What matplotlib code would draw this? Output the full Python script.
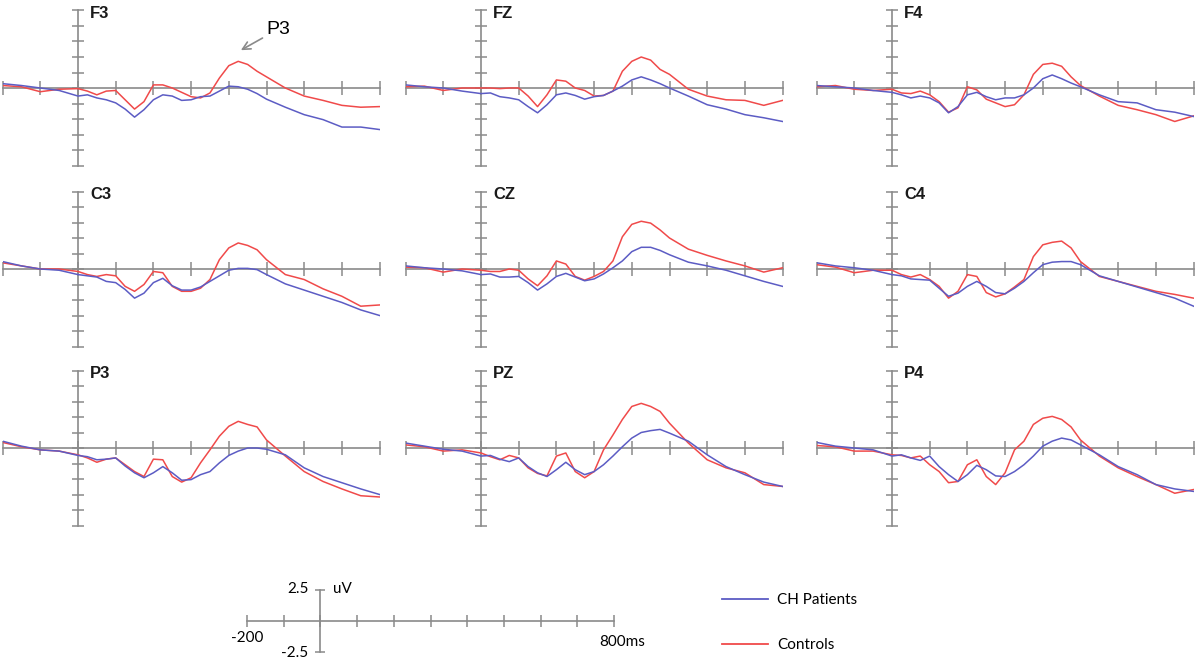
import matplotlib
matplotlib.use("Agg")
import matplotlib.pyplot as plt
from matplotlib.lines import Line2D

# time axis in ms
times_ms = [-200, -150, -100, -50, 0, 25, 50, 75, 100, 125, 150, 175, 200, 225, 250,
            275, 300, 325, 350, 375, 400, 425, 450, 475, 500, 550, 600, 650, 700, 750, 800]

# amplitudes in uV
f3_patients = [0.35, 0.2, 0, -0.2, -0.65, -0.55, -0.8, -0.95, -1.2, -1.7, -2.35, -1.75, -0.95, -0.55, -0.65,
               -1.0, -0.95, -0.7, -0.65, -0.25, 0.15, 0.1, -0.1, -0.45, -0.9, -1.55, -2.15, -2.55, -3.15, -3.15, -3.35]
f3_controls = [0.2, 0.1, -0.3, -0.1, -0.05, -0.25, -0.55, -0.25, -0.2, -0.95, -1.7, -1.1, 0.25, 0.25, 0,
               -0.35, -0.7, -0.8, -0.4, 0.8, 1.8, 2.15, 1.9, 1.35, 0.9, 0, -0.65, -1.0, -1.4, -1.55, -1.5]

fz_patients = [0.25, 0.1, 0, -0.25, -0.45, -0.4, -0.7, -0.8, -0.95, -1.5, -2.0, -1.35, -0.55, -0.4, -0.6,
               -0.9, -0.7, -0.6, -0.25, 0.15, 0.65, 0.9, 0.65, 0.35, 0, -0.65, -1.35, -1.7, -2.15, -2.4, -2.7]
fz_controls = [0.1, 0.15, -0.2, 0, 0, 0, -0.05, 0, 0, -0.65, -1.5, -0.55, 0.65, 0.55, 0,
               -0.2, -0.65, -0.6, -0.25, 1.35, 2.15, 2.5, 2.25, 1.5, 1.1, -0.1, -0.65, -0.95, -1.0, -1.4, -1.0]

f4_patients = [0.2, 0.1, 0, -0.2, -0.35, -0.55, -0.8, -0.65, -0.8, -1.2, -2.0, -1.5, -0.55, -0.35, -0.7,
               -0.95, -0.8, -0.8, -0.55, 0, 0.75, 1.05, 0.75, 0.4, 0.1, -0.55, -1.1, -1.2, -1.75, -1.95, -2.3]
f4_controls = [0.1, 0.2, -0.1, -0.2, -0.1, -0.4, -0.45, -0.25, -0.55, -1.1, -1.95, -1.6, 0.1, -0.15, -0.9,
               -1.2, -1.5, -1.35, -0.55, 1.1, 1.9, 2.0, 1.75, 0.9, 0.2, -0.65, -1.4, -1.75, -2.15, -2.7, -2.25]

c3_patients = [0.6, 0.25, 0, -0.1, -0.45, -0.55, -0.65, -1.0, -1.1, -1.65, -2.35, -1.95, -1.1, -0.75, -1.35,
               -1.7, -1.7, -1.45, -1.0, -0.55, -0.1, 0.05, 0.05, -0.05, -0.45, -1.2, -1.7, -2.2, -2.7, -3.3, -3.75]
c3_controls = [0.5, 0.25, 0, 0, -0.2, -0.45, -0.6, -0.45, -0.55, -1.4, -1.8, -1.25, -0.2, -0.3, -1.4,
               -1.8, -1.8, -1.55, -0.85, 0.75, 1.7, 2.1, 1.9, 1.55, 0.75, -0.45, -0.85, -1.6, -2.2, -3.0, -2.9]

cz_patients = [0.25, 0.1, 0, -0.15, -0.45, -0.4, -0.65, -0.65, -0.6, -1.1, -1.7, -1.2, -0.6, -0.35, -0.65,
               -0.95, -0.8, -0.4, 0.1, 0.65, 1.4, 1.75, 1.75, 1.5, 1.15, 0.55, 0.25, -0.1, -0.55, -1.0, -1.4]
cz_controls = [0.15, 0.1, -0.25, 0, -0.1, -0.2, -0.2, 0, -0.1, -0.8, -1.35, -0.55, 0.65, 0.4, -0.6,
               -0.9, -0.6, -0.2, 0.65, 2.6, 3.6, 3.85, 3.7, 3.15, 2.5, 1.6, 1.1, 0.65, 0.25, -0.25, 0.1]

c4_patients = [0.5, 0.25, 0.1, -0.1, -0.45, -0.55, -0.8, -0.85, -0.9, -1.55, -2.2, -1.95, -1.4, -1.0, -1.4,
               -1.9, -2.0, -1.55, -1.0, -0.3, 0.35, 0.55, 0.6, 0.6, 0.35, -0.55, -1.0, -1.45, -1.9, -2.35, -3.0]
c4_controls = [0.35, 0.15, -0.3, -0.1, -0.1, -0.45, -0.65, -0.45, -0.85, -1.4, -2.35, -1.8, -0.45, -0.6, -1.9,
               -2.25, -2.0, -1.45, -0.85, 1.0, 1.95, 2.15, 2.25, 1.7, 0.6, -0.6, -1.0, -1.4, -1.8, -2.05, -2.35]

p3_patients = [0.55, 0.15, -0.15, -0.25, -0.6, -0.7, -0.95, -0.9, -0.8, -1.45, -2.0, -2.4, -2.0, -1.5, -2.0,
               -2.6, -2.55, -2.15, -1.9, -1.2, -0.6, -0.25, 0, 0, -0.1, -0.55, -1.6, -2.3, -2.8, -3.3, -3.75]
p3_controls = [0.45, 0.1, -0.15, -0.25, -0.55, -0.8, -1.15, -0.9, -0.8, -1.35, -1.9, -2.3, -0.9, -0.95, -2.3,
               -2.75, -2.4, -1.2, -0.15, 0.95, 1.75, 2.15, 1.9, 1.7, 0.65, -0.65, -1.9, -2.7, -3.3, -3.85, -3.95]

pz_patients = [0.4, 0.15, -0.1, -0.25, -0.65, -0.6, -0.9, -1.1, -0.8, -1.5, -2.0, -2.3, -1.75, -1.15, -1.75,
               -2.15, -1.9, -1.35, -0.65, 0.1, 0.8, 1.25, 1.4, 1.5, 1.2, 0.55, -0.55, -1.5, -2.15, -2.75, -3.1]
pz_controls = [0.25, 0.1, -0.25, -0.15, -0.4, -0.7, -0.95, -0.6, -0.8, -1.6, -2.05, -2.25, -0.65, -0.4, -1.9,
               -2.4, -1.9, -0.15, 1.05, 2.3, 3.35, 3.6, 3.35, 2.95, 2.0, 0.4, -0.95, -1.6, -2.0, -2.95, -3.1]

p4_patients = [0.45, 0.15, 0, -0.15, -0.65, -0.55, -0.8, -1.0, -0.65, -1.5, -2.15, -2.7, -2.15, -1.4, -1.75,
               -2.25, -2.3, -1.9, -1.35, -0.65, 0.15, 0.55, 0.8, 0.65, 0.25, -0.55, -1.5, -2.15, -2.95, -3.3, -3.5]
p4_controls = [0.2, 0.1, -0.25, -0.25, -0.55, -0.6, -0.8, -0.65, -1.35, -1.9, -2.8, -2.7, -1.35, -0.95, -2.3,
               -2.95, -2.0, -0.15, 0.55, 1.9, 2.4, 2.55, 2.3, 1.7, 0.65, -0.65, -1.6, -2.3, -2.95, -3.65, -3.35]

channels = ['F3', 'FZ', 'F4', 'C3', 'CZ', 'C4', 'P3', 'PZ', 'P4']
patients = [f3_patients, fz_patients, f4_patients, c3_patients, cz_patients, c4_patients,
            p3_patients, pz_patients, p4_patients]
controls = [f3_controls, fz_controls, f4_controls, c3_controls, cz_controls, c4_controls,
            p3_controls, pz_controls, p4_controls]

W, H = 1200, 661
BLUE = '#5c5cc4'
RED = '#f04a4a'
GREY = '#8a8a8a'


def px_box(left, top, width, height):
    return [left / W, 1 - (top + height) / H, width / W, height / H]


def setup_axis(ax, ybound, yticks, xticks):
    for side in ['top', 'right']:
        ax.spines[side].set_visible(False)
    ax.spines['left'].set_position(('data', 0))
    ax.spines['bottom'].set_position(('data', 0))
    ax.spines['left'].set_bounds(-ybound, ybound)
    ax.spines['bottom'].set_bounds(-200, 800)
    for side in ['left', 'bottom']:
        ax.spines[side].set_color(GREY)
        ax.spines[side].set_linewidth(1.2)
    ax.set_xticks(xticks)
    ax.set_yticks(yticks)
    ax.set_xticklabels([])
    ax.set_yticklabels([])
    ax.tick_params(axis='x', direction='inout', length=10, width=1.1, color=GREY)
    ax.tick_params(axis='y', direction='inout', length=8, width=1.1, color=GREY)
    ax.patch.set_visible(False)


fig = plt.figure(figsize=(W / 100, H / 100), dpi=100)
plt.rcParams['font.family'] = ['Liberation Sans', 'DejaVu Sans']

zero_px = [78, 481, 892]     # x pixel of t=0 per column
row_px = [88, 269, 448]      # y pixel of baseline per row
ms_px = 0.377                # pixels per ms
uv_px = 12.4                 # pixels per uV
ylim = 6.5

for i, name in enumerate(channels):
    r, c = divmod(i, 3)
    left = zero_px[c] - 200 * ms_px
    top = row_px[r] - ylim * uv_px
    ax = fig.add_axes(px_box(left, top, 1000 * ms_px, 2 * ylim * uv_px))
    ax.set_xlim(-200, 800)
    ax.set_ylim(-ylim, ylim)
    setup_axis(ax, 6.25, [k * 1.25 for k in range(-5, 6)], list(range(-200, 801, 100)))
    ax.plot(times_ms, controls[i], color=RED, lw=1.1, zorder=3)
    ax.plot(times_ms, patients[i], color=BLUE, lw=1.1, zorder=4)
    ax.text(32, 6.0, name, fontsize=12, ha='left', va='center', fontweight='bold', color='#1a1a1a')
    if i == 0:
        ax.annotate('P3', xy=(432, 3.05), xytext=(500, 4.75), fontsize=14, ha='left', va='center',
                    arrowprops=dict(arrowstyle='->', color=GREY, lw=1.2, shrinkA=1, shrinkB=0))

# scale bar
sb = fig.add_axes(px_box(247, 590, 367, 62))
sb.set_xlim(-200, 800)
sb.set_ylim(-2.5, 2.5)
setup_axis(sb, 2.5, [-2.5, 2.5], list(range(-200, 801, 100)))
sb.tick_params(axis='x', length=9)
sb.tick_params(axis='y', length=7)
sfont = dict(fontsize=11, family=['Lato', 'DejaVu Sans'], va='center')
sb.text(-33, 2.6, '2.5', ha='right', **sfont)
sb.text(33, 2.6, 'uV', ha='left', **sfont)
sb.text(-200, -1.35, '-200', ha='center', **sfont)
sb.text(822, -1.7, '800ms', ha='center', **sfont)
sb.text(-33, -2.6, '-2.5', ha='right', **sfont)

# legend
handles = [Line2D([], [], color=BLUE, lw=1.3), Line2D([], [], color=RED, lw=1.3)]
fig.legend(handles, ['CH Patients', 'Controls'], loc='upper left',
           bbox_to_anchor=(722 / W, 1 - 593 / H), frameon=False,
           prop={'family': ['Lato', 'DejaVu Sans'], 'size': 11},
           labelspacing=2.05, handlelength=3.0, handletextpad=0.6, borderpad=0, borderaxespad=0)

fig.savefig('out.png', dpi=100, facecolor='white')
